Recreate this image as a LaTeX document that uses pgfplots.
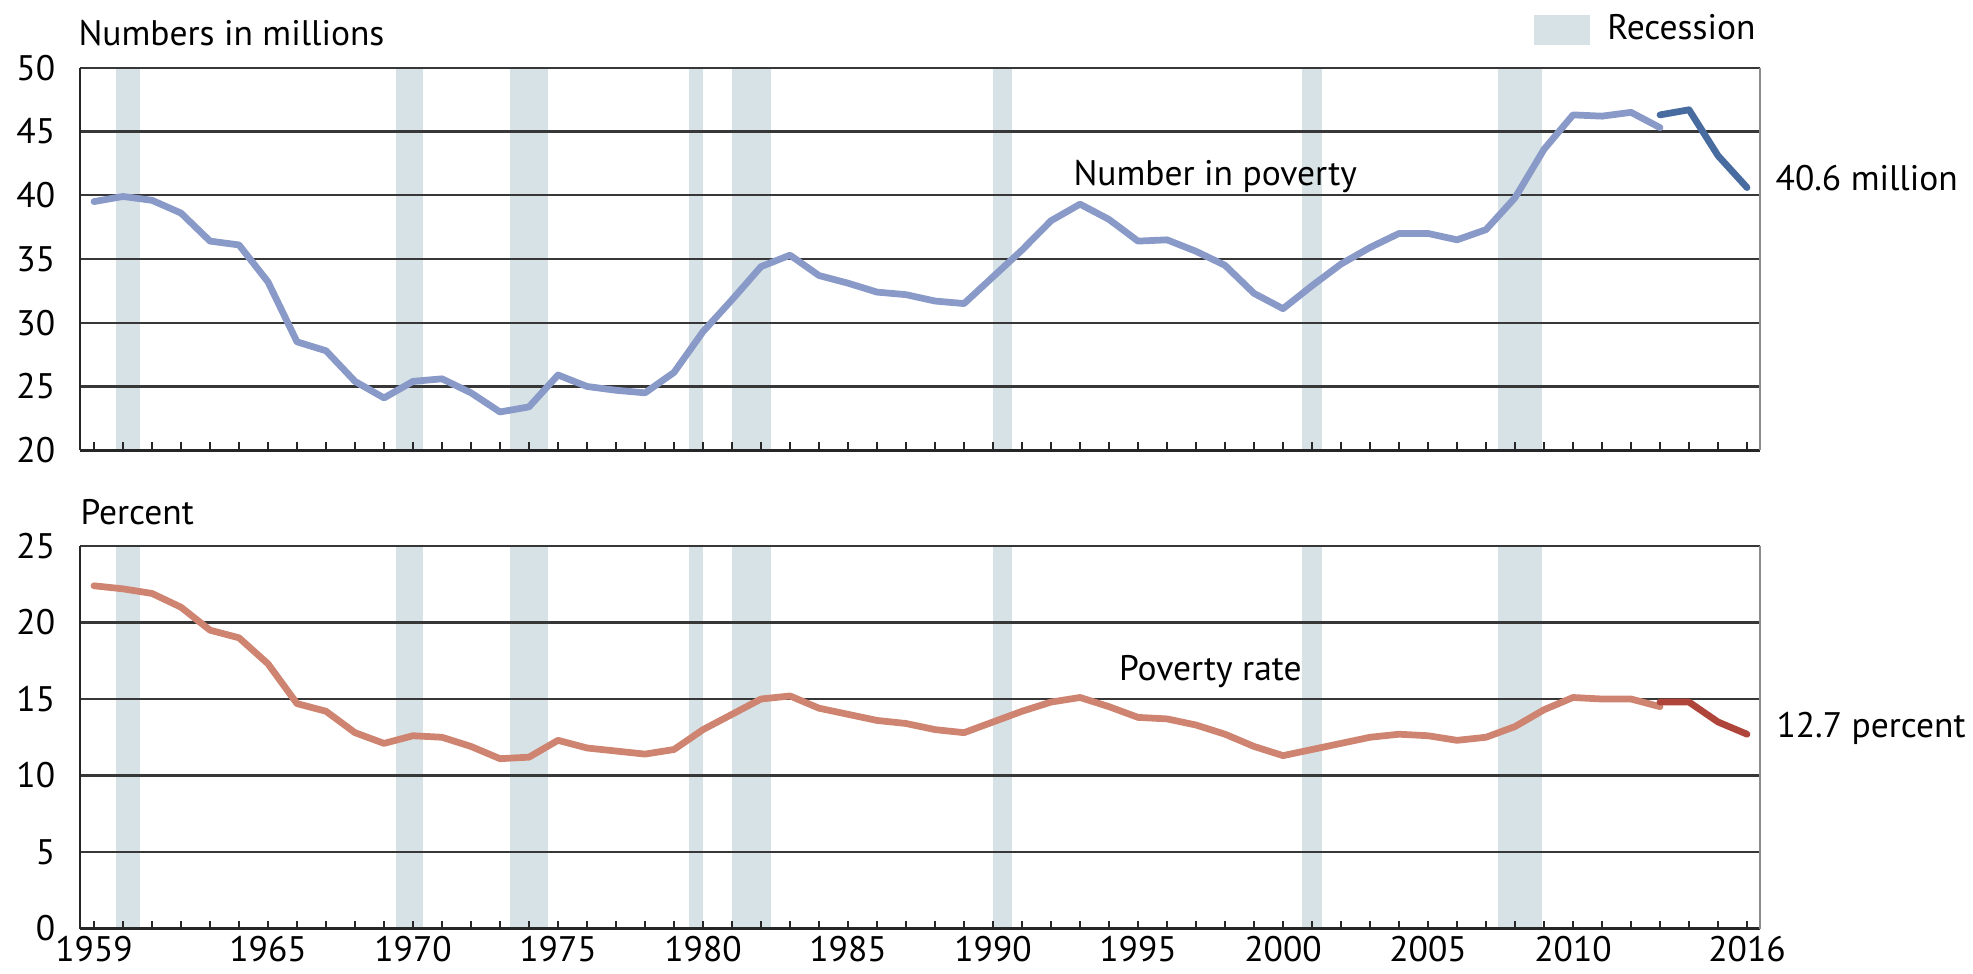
\documentclass[border=0pt]{standalone}
\usepackage{fontspec}
\setmainfont{PT Sans}
\usepackage{pgfplots}
\usepackage{pgfplotstable}
\pgfplotsset{compat=1.18}

\definecolor{recess}{RGB}{214,226,230}
\definecolor{numlight}{RGB}{138,154,200}
\definecolor{numdark}{RGB}{72,108,160}
\definecolor{ratelight}{RGB}{206,132,112}
\definecolor{ratedark}{RGB}{174,68,58}
\definecolor{gridc}{RGB}{55,55,55}

% year, number in poverty (millions), poverty rate (percent)
\pgfplotstableread{
year num rate
1959 39.5 22.4
1960 39.9 22.2
1961 39.6 21.9
1962 38.6 21.0
1963 36.4 19.5
1964 36.1 19.0
1965 33.2 17.3
1966 28.5 14.7
1967 27.8 14.2
1968 25.4 12.8
1969 24.1 12.1
1970 25.4 12.6
1971 25.6 12.5
1972 24.5 11.9
1973 23.0 11.1
1974 23.4 11.2
1975 25.9 12.3
1976 25.0 11.8
1977 24.7 11.6
1978 24.5 11.4
1979 26.1 11.7
1980 29.3 13.0
1981 31.8 14.0
1982 34.4 15.0
1983 35.3 15.2
1984 33.7 14.4
1985 33.1 14.0
1986 32.4 13.6
1987 32.2 13.4
1988 31.7 13.0
1989 31.5 12.8
1990 33.6 13.5
1991 35.7 14.2
1992 38.0 14.8
1993 39.3 15.1
1994 38.1 14.5
1995 36.4 13.8
1996 36.5 13.7
1997 35.6 13.3
1998 34.5 12.7
1999 32.3 11.9
2000 31.1 11.3
2001 32.9 11.7
2002 34.6 12.1
2003 35.9 12.5
2004 37.0 12.7
2005 37.0 12.6
2006 36.5 12.3
2007 37.3 12.5
2008 39.8 13.2
2009 43.6 14.3
2010 46.3 15.1
2011 46.2 15.0
2012 46.5 15.0
2013 45.3 14.5
}\oldseries

\pgfplotstableread{
year num rate
2013 46.3 14.8
2014 46.7 14.8
2015 43.1 13.5
2016 40.6 12.7
}\newseries

% recession spans (start, end), years shifted to the chart's mid-year ticks
\newcommand\recessionbars[2]{%
  \addplot[fill=recess, draw=none, on layer=axis background] coordinates {(1959.75,#1) (1959.75,#2) (1960.58,#2) (1960.58,#1)} -- cycle;
  \addplot[fill=recess, draw=none, on layer=axis background] coordinates {(1969.42,#1) (1969.42,#2) (1970.33,#2) (1970.33,#1)} -- cycle;
  \addplot[fill=recess, draw=none, on layer=axis background] coordinates {(1973.33,#1) (1973.33,#2) (1974.67,#2) (1974.67,#1)} -- cycle;
  \addplot[fill=recess, draw=none, on layer=axis background] coordinates {(1979.50,#1) (1979.50,#2) (1980.00,#2) (1980.00,#1)} -- cycle;
  \addplot[fill=recess, draw=none, on layer=axis background] coordinates {(1981.00,#1) (1981.00,#2) (1982.33,#2) (1982.33,#1)} -- cycle;
  \addplot[fill=recess, draw=none, on layer=axis background] coordinates {(1990.00,#1) (1990.00,#2) (1990.67,#2) (1990.67,#1)} -- cycle;
  \addplot[fill=recess, draw=none, on layer=axis background] coordinates {(2000.67,#1) (2000.67,#2) (2001.33,#2) (2001.33,#1)} -- cycle;
  \addplot[fill=recess, draw=none, on layer=axis background] coordinates {(2007.42,#1) (2007.42,#2) (2008.92,#2) (2008.92,#1)} -- cycle;
}

\pgfplotsset{
  panel/.style={
    set layers,
    scale only axis, width=672pt, height=153pt,
    xmin=1958.517, xmax=2016.448,
    axis lines=left,
    axis line style={-, black!85, line width=1.1pt},
    xtick={1959,1965,1970,1975,1980,1985,1990,1995,2000,2005,2010,2016},
    minor xtick={1959,...,2016},
    tick align=inside,
    major tick length=3.2pt, minor tick length=3.2pt,
    tick style={black!85, line width=0.9pt},
    ytick style={draw=none},
    ymajorgrids, grid style={gridc, line width=0.9pt},
    yticklabel style={xshift=-6.4pt},
    xticklabel style={inner sep=0.5pt, yshift=-2.5pt},
    /pgf/number format/1000 sep={},
    /pgf/number format/assume math mode=true,
    tick label style={font=\fontsize{14.2}{17}\selectfont},
    clip=false,
  },
  numline/.style={line width=2.7pt, line join=round, line cap=round},
}

\begin{document}
\begin{tikzpicture}[font=\fontsize{14.2}{17}\selectfont]

\begin{axis}[panel, at={(32pt,-27.08pt)}, anchor=north west,
  ymin=20, ymax=50, ytick={20,25,...,50}, xticklabels={}]
  \recessionbars{20}{50}
  \addplot[numline, numlight] table[x=year, y=num] {\oldseries};
  \addplot[numline, numdark] table[x=year, y=num] {\newseries};
  \draw[black!45, line width=0.7pt] (rel axis cs:1,0) -- (rel axis cs:1,1);
  \node[anchor=base west, inner sep=0] at (axis cs:1992.76,40.8) {Number in poverty};
  \node[anchor=base west, inner sep=0] at (axis cs:2016.97,40.37) {40.6 million};
\end{axis}

\begin{axis}[panel, at={(32pt,-218.4pt)}, anchor=north west,
  ymin=0, ymax=25, ytick={0,5,...,25}]
  \recessionbars{0}{25}
  \addplot[numline, ratelight] table[x=year, y=rate] {\oldseries};
  \addplot[numline, ratedark] table[x=year, y=rate] {\newseries};
  \draw[black!45, line width=0.7pt] (rel axis cs:1,0) -- (rel axis cs:1,1);
  \node[anchor=base west, inner sep=0] at (axis cs:1994.33,16.2) {Poverty rate};
  \node[anchor=base west, inner sep=0] at (axis cs:2017.0,12.5) {12.7 percent};
\end{axis}

\node[anchor=base west, inner sep=0] at (31.2pt,-18pt) {Numbers in millions};
\node[anchor=base west, inner sep=0] at (32pt,-209.6pt) {Percent};
\fill[recess] (613.6pt,-6pt) rectangle (636pt,-18pt);
\node[anchor=base east, inner sep=0] at (702.4pt,-15.6pt) {Recession};

\pgfresetboundingbox
\useasboundingbox (0,0) rectangle (789.2pt,-389.2pt);
\end{tikzpicture}
\end{document}
